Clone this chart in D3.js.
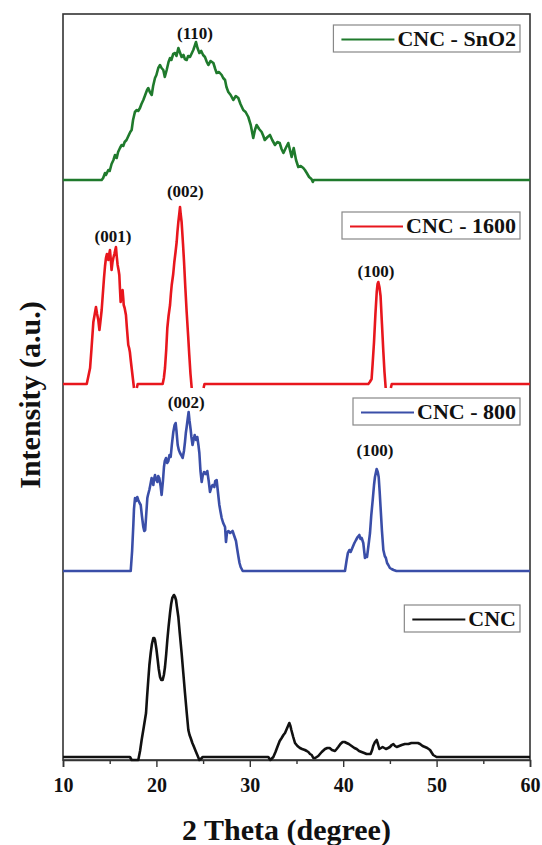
<!DOCTYPE html>
<html>
<head>
<meta charset="utf-8">
<script src="https://cdn.jsdelivr.net/npm/d3@7"></script>
<style>
  body { margin: 0; background: #fff; }
  svg { display: block; }
  text { font-family: "Liberation Serif", "Times New Roman", serif; font-weight: bold; fill: #111; }
</style>
</head>
<body>
<svg width="542" height="845"></svg>
<script>
// series names, colours and vertical offsets (a.u.)
var seriesNames = ["CNC", "CNC - 800", "CNC - 1600", "CNC - SnO2"];
var seriesColors = ["#111111", "#3a4ea8", "#e8161d", "#1f7a2c"];
var seriesOffsets = [3, 189, 376, 580];

// [2theta, intensity]; null = gap in the trace
var cncData = [[10,0],[17.17,0],[17.35,-3],[18.06,-3],[18.25,6],[18.42,17],[18.65,30],[18.89,44],[19.0,60],[19.13,77],[19.25,92],[19.39,104],[19.52,113],[19.67,119],[19.77,119],[19.85,117],[20.0,108],[20.14,97],[20.25,88],[20.39,80],[20.52,77],[20.67,77],[20.8,82],[20.92,90],[21.05,103],[21.17,117],[21.3,130],[21.46,144],[21.58,153],[21.7,159],[21.88,162],[22.0,160],[22.1,157],[22.2,150],[22.35,140],[22.5,124],[22.7,104],[22.88,84],[23.06,64],[23.25,44],[23.42,27],[23.55,22],[23.67,19],[23.85,14],[24.03,10],[24.2,6],[24.38,2],[24.6,-3],[24.75,-2],[24.96,0],[31.98,0],[32.2,-3],[32.52,0],[32.75,5],[32.95,10],[33.2,16],[33.41,19],[33.6,22],[33.77,24],[34.0,29],[34.23,34],[34.35,31],[34.45,27],[34.65,20],[34.84,14],[35.1,11],[35.37,9],[35.6,8],[35.9,7],[36.1,6],[36.27,5],[36.45,3],[36.63,2],[36.8,-1],[37.0,-1],[37.33,1],[37.7,5],[38.05,8],[38.3,9],[38.55,9],[38.8,7],[39.12,6],[39.3,8],[39.47,10],[39.7,13],[39.94,15],[40.15,15],[40.37,14],[40.6,13],[40.9,11],[41.2,9],[41.44,8],[41.7,6],[41.97,5],[42.25,4],[42.5,3],[42.93,3],[43.1,7],[43.21,11],[43.4,15],[43.58,17],[43.72,13],[43.87,8],[44.05,9],[44.22,10],[44.4,9],[44.58,8],[44.8,9],[45.0,10],[45.2,12],[45.37,13],[45.55,11],[45.73,10],[46.0,11],[46.26,12],[46.6,13],[46.98,13],[47.3,14],[47.69,14],[48.0,14],[48.23,13],[48.5,11],[48.76,10],[49.0,9],[49.3,7],[49.5,4],[49.64,2],[50.0,0],[60,0]];

var cnc800Data = [[10,0],[17.25,0],[17.4,20],[17.53,46],[17.6,62],[17.71,73],[17.85,70],[17.95,74],[18.06,71],[18.2,68],[18.32,66],[18.45,55],[18.6,44],[18.7,40],[18.8,41],[18.9,55],[19.03,73],[19.1,76],[19.24,81],[19.35,86],[19.49,93],[19.58,90],[19.67,86],[19.75,92],[19.85,96],[19.95,92],[20.1,89],[20.2,95],[20.31,93],[20.45,85],[20.56,76],[20.7,90],[20.81,104],[20.9,110],[21.03,113],[21.15,108],[21.28,110],[21.4,116],[21.53,114],[21.65,126],[21.81,139],[21.95,146],[22.06,148],[22.15,140],[22.28,126],[22.4,121],[22.53,118],[22.65,116],[22.81,113],[22.95,120],[23.06,129],[23.15,138],[23.24,144],[23.35,152],[23.45,159],[23.55,150],[23.66,142],[23.75,134],[23.87,126],[24.0,132],[24.1,136],[24.25,131],[24.38,134],[24.5,126],[24.6,118],[24.72,100],[24.85,89],[24.95,95],[25.1,99],[25.3,97],[25.45,100],[25.6,90],[25.74,79],[25.9,84],[26.02,86],[26.2,84],[26.3,90],[26.45,91],[26.6,78],[26.74,66],[26.85,60],[26.99,53],[27.15,48],[27.35,44],[27.45,29],[27.55,38],[27.7,40],[27.9,38],[28.16,40],[28.3,36],[28.52,30],[28.65,22],[28.77,15],[28.9,8],[29.02,4],[29.24,0],[40.19,0],[40.37,11],[40.5,18],[40.66,21],[40.8,19],[41.02,24],[41.2,28],[41.37,31],[41.55,34],[41.73,36],[41.85,32],[41.98,33],[42.15,28],[42.33,13],[42.45,16],[42.55,14],[42.7,25],[42.87,38],[43.0,55],[43.16,71],[43.3,86],[43.4,94],[43.58,102],[43.7,99],[43.8,94],[43.9,80],[44.0,64],[44.15,40],[44.3,21],[44.45,15],[44.57,13],[44.7,8],[44.83,6],[45.0,3],[45.18,2],[45.4,1],[45.7,0],[60,0]];

var cnc1600Data = [[10,0],[12.54,0],[12.7,7],[12.9,16],[13.05,35],[13.25,62],[13.4,70],[13.53,77],[13.65,70],[13.78,64],[13.9,54],[14.0,62],[14.14,74],[14.25,88],[14.39,106],[14.5,118],[14.6,126],[14.7,130],[14.85,124],[14.95,130],[15.03,134],[15.12,124],[15.2,114],[15.3,122],[15.39,126],[15.5,130],[15.67,137],[15.75,128],[15.85,119],[15.95,114],[16.03,109],[16.1,95],[16.17,82],[16.28,90],[16.38,94],[16.45,86],[16.5,79],[16.6,76],[16.74,69],[16.85,55],[16.99,39],[17.08,36],[17.16,32],[17.25,24],[17.35,16],[17.5,4],[17.6,-4],[17.65,null],[17.9,-4],[18.0,0],[20.67,0],[20.8,6],[20.92,16],[21.05,34],[21.17,56],[21.3,68],[21.46,79],[21.55,90],[21.64,99],[21.8,110],[21.92,122],[22.05,132],[22.17,142],[22.25,152],[22.35,162],[22.45,170],[22.53,177],[22.6,170],[22.7,162],[22.85,140],[22.96,122],[23.1,96],[23.24,72],[23.4,48],[23.52,29],[23.65,10],[23.78,-4],[23.8,null],[25.05,-4],[25.15,0],[42.69,0],[42.85,2],[43.04,5],[43.15,20],[43.3,42],[43.45,70],[43.59,92],[43.68,100],[43.76,102],[43.88,97],[44.0,88],[44.15,60],[44.3,32],[44.42,12],[44.55,-4],[44.6,null],[45.1,-4],[45.2,0],[60,0]];

var sno2Data = [[10,0],[14.14,0],[14.3,2],[14.5,7],[14.6,5],[14.85,10],[15.0,9],[15.2,16],[15.4,20],[15.57,25],[15.75,22],[15.9,28],[16.1,32],[16.28,35],[16.45,34],[16.6,38],[16.8,40],[17.0,44],[17.2,48],[17.35,50],[17.5,60],[17.7,68],[17.9,70],[18.05,69],[18.24,72],[18.4,76],[18.6,80],[18.8,85],[19.0,90],[19.13,92],[19.3,88],[19.5,85],[19.65,94],[19.85,102],[20.0,105],[20.2,112],[20.39,115],[20.55,112],[20.74,110],[20.9,103],[21.1,110],[21.3,118],[21.46,122],[21.6,120],[21.8,126],[22.0,127],[22.15,124],[22.35,132],[22.5,128],[22.7,123],[22.9,125],[23.05,121],[23.24,120],[23.4,124],[23.6,123],[23.8,127],[23.95,130],[24.1,134],[24.24,138],[24.4,132],[24.6,127],[24.8,129],[25.0,125],[25.2,123],[25.4,118],[25.56,115],[25.8,119],[26.1,117],[26.3,111],[26.45,107],[26.7,108],[26.99,105],[27.15,102],[27.35,100],[27.5,93],[27.7,88],[27.95,85],[28.23,80],[28.5,84],[28.77,82],[29.0,76],[29.3,70],[29.55,68],[29.84,63],[30.1,55],[30.37,42],[30.55,50],[30.73,55],[31.0,51],[31.27,48],[31.45,44],[31.6,40],[31.9,43],[32.16,45],[32.4,40],[32.7,35],[32.95,38],[33.2,37],[33.4,31],[33.6,27],[33.85,32],[34.12,37],[34.3,30],[34.48,23],[34.6,28],[34.7,32],[34.95,20],[35.19,13],[35.45,14],[35.73,12],[35.9,10],[36.1,7],[36.35,3],[36.6,1],[36.75,-2],[36.85,0],[60,0]];

var allData = [cncData, cnc800Data, cnc1600Data, sno2Data];

// peak annotations: series index, 2theta, intensity above baseline
var peakLabels = ["(110)", "(002)", "(001)", "(100)", "(002)", "(100)"];
var peakSeries = [3, 2, 2, 2, 1, 1];
var peakTheta = [24.13, 23.1, 15.35, 43.5, 23.2, 43.4];
var peakHeight = [141, 187, 142, 107, 163, 115];

var xTicks = [10, 20, 30, 40, 50, 60];
var xMinorTicks = [15, 25, 35, 45, 55];

// legend box tops (px), one per series
var legendTops = [605, 398, 212, 25];

(function() {
  var svg = d3.select("svg");
  var mLeft = 63, mRight = 530, mTop = 14, mBottom = 760;

  var x = d3.scaleLinear().domain([10, 60]).range([mLeft, mRight]);
  var y = d3.scaleLinear().domain([0, 746]).range([mBottom, mTop]);

  // frame
  svg.append("rect")
    .attr("x", mLeft).attr("y", mTop)
    .attr("width", mRight - mLeft).attr("height", mBottom - mTop)
    .attr("fill", "none").attr("stroke", "#333").attr("stroke-width", 1.6);

  // x axis
  var xAxis = d3.axisBottom(x).tickValues(xTicks).tickSize(7).tickFormat(d3.format("d"));
  var gx = svg.append("g").attr("transform", "translate(0," + mBottom + ")").call(xAxis);
  gx.select(".domain").attr("stroke", "#333").attr("stroke-width", 1.6);
  gx.selectAll(".tick line").attr("stroke", "#333").attr("stroke-width", 1.4);
  gx.selectAll(".tick text")
    .attr("y", 13).attr("dy", "0.95em")
    .style("font-family", '"Liberation Serif", "Times New Roman", serif')
    .style("font-weight", "bold").style("font-size", "20px").attr("fill", "#111");

  var gMinor = svg.append("g").attr("transform", "translate(0," + mBottom + ")")
    .call(d3.axisBottom(x).tickValues(xMinorTicks).tickSize(4).tickFormat(""));
  gMinor.select(".domain").remove();
  gMinor.selectAll(".tick line").attr("stroke", "#333").attr("stroke-width", 1.4);

  // axis titles
  svg.append("text")
    .attr("x", (mLeft + mRight) / 2 - 10).attr("y", 840)
    .attr("text-anchor", "middle").style("font-size", "30px")
    .text("2 Theta (degree)");

  svg.append("text")
    .attr("transform", "translate(40," + 395 + ") rotate(-90)")
    .attr("text-anchor", "middle").style("font-size", "30px")
    .text("Intensity (a.u.)");

  // traces
  var line = d3.line()
    .defined(function(d) { return d[1] !== null; })
    .x(function(d) { return x(d[0]); })
    .y(function(d) { return y(d[1]); });

  allData.forEach(function(data, i) {
    var off = seriesOffsets[i];
    svg.append("path")
      .datum(data.map(function(d) { return [d[0], d[1] === null ? null : d[1] + off]; }))
      .attr("d", line)
      .attr("fill", "none")
      .attr("stroke", seriesColors[i])
      .attr("stroke-width", 2.6)
      .attr("stroke-linejoin", "round");
  });

  // peak labels
  peakLabels.forEach(function(lab, i) {
    svg.append("text")
      .attr("x", x(peakTheta[i]))
      .attr("y", y(peakHeight[i] + seriesOffsets[peakSeries[i]]))
      .attr("text-anchor", "middle")
      .style("font-size", "17px")
      .text(lab);
  });

  // legends
  var boxRight = 520, lineLen = 53, boxH = 27;
  seriesNames.forEach(function(name, i) {
    var g = svg.append("g");
    var t = g.append("text")
      .attr("x", boxRight - 4).attr("y", legendTops[i] + 21)
      .attr("text-anchor", "end").style("font-size", "22px")
      .text(name);
    var w = t.node().getComputedTextLength();
    var textLeft = boxRight - 4 - w;
    var boxLeft = textLeft - 3 - lineLen - 8;
    g.insert("rect", "text")
      .attr("x", boxLeft).attr("y", legendTops[i])
      .attr("width", boxRight - boxLeft).attr("height", boxH)
      .attr("fill", "#fff").attr("stroke", "#888").attr("stroke-width", 1.2);
    g.append("line")
      .attr("x1", boxLeft + 8).attr("x2", boxLeft + 8 + lineLen)
      .attr("y1", legendTops[i] + boxH / 2 + 1).attr("y2", legendTops[i] + boxH / 2 + 1)
      .attr("stroke", seriesColors[i]).attr("stroke-width", 2.2);
  });
})();
</script>
</body>
</html>
